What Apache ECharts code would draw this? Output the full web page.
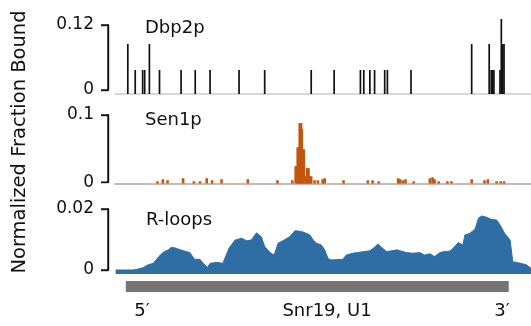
<!DOCTYPE html>
<html><head><meta charset="utf-8">
<script src="https://cdn.jsdelivr.net/npm/echarts@6/dist/echarts.min.js"></script>
<style>html,body{margin:0;padding:0;background:#fff}#c{width:531px;height:326px}</style>
</head><body><div id="c"></div>
<script>
// x domain in nucleotides (gene = 0..568)
const xMin = -16, xMax = 601;
const geneSpan = [0, 568];

// Dbp2p
const dbpTicks = [0, 0.12];
const dbpPos = [3,14,25,28,35,50,82,103,125,168,206,275,309,348,353,362,369,384,388,423,513,539,542,544,546,555,557,559,561];
const dbpVal = [0.085,0.037,0.037,0.037,0.085,0.037,0.037,0.037,0.037,0.037,0.037,0.037,0.037,0.037,0.037,0.037,0.037,0.037,0.037,0.037,0.085,0.085,0.037,0.037,0.037,0.037,0.131,0.085,0.085];

// Sen1p
const senTicks = [0, 0.1];
const senPos = [47,55,62,85,101,110,120,128,142,181,225,247,252,254,255,257,258,260,261,263,264,266,268,269,271,272,274,275,280,285,292,295,323,359,366,375,404,407,411,415,427,451,455,458,464,477,483,513,532,537,550,556,561];
const senVal = [0.0015,0.0045,0.003,0.006,0.0015,0.0015,0.006,0.003,0.0045,0.0045,0.003,0.003,0.024,0.024,0.052,0.052,0.088,0.088,0.079,0.049,0.049,0.009,0.003,0.021,0.021,0.009,0.0075,0.009,0.003,0.003,0.0045,0.006,0.003,0.003,0.003,0.0015,0.006,0.0045,0.003,0.0045,0.0015,0.006,0.0075,0.0045,0.0015,0.0015,0.0015,0.0045,0.003,0.0045,0.0015,0.0015,0.0015];

// R-loops
const rlTicks = [0, 0.02];
const rlPos = [-15,11,16,26,33,41,49,55,63,68,75,81,95,102,110,115,121,125,135,144,153,162,172,179,186,194,201,206,214,220,226,233,243,251,261,270,273,278,283,290,295,300,304,322,327,337,352,362,369,374,379,387,402,416,426,436,443,451,458,466,471,481,488,493,500,503,510,518,523,528,535,542,550,555,562,570,574,582,594,601];
const rlVal = [0.0000,0.0000,0.0002,0.0008,0.0017,0.0022,0.0044,0.0057,0.0066,0.0075,0.0071,0.0066,0.0057,0.0035,0.0035,0.0022,0.0008,0.0022,0.0025,0.0022,0.0071,0.0098,0.0104,0.0096,0.0098,0.0122,0.0109,0.0077,0.0057,0.0049,0.0088,0.0096,0.0109,0.0129,0.0126,0.0118,0.0115,0.0098,0.0088,0.0082,0.0066,0.0038,0.0033,0.0035,0.0049,0.0055,0.0060,0.0063,0.0075,0.0085,0.0075,0.0060,0.0066,0.0057,0.0055,0.0057,0.0049,0.0053,0.0044,0.0057,0.0060,0.0062,0.0077,0.0090,0.0082,0.0115,0.0120,0.0134,0.0170,0.0177,0.0173,0.0166,0.0164,0.0148,0.0120,0.0098,0.0027,0.0024,0.0017,0.0006];

const panelTitles = ['Dbp2p', 'Sen1p', 'R-loops'];
const yTitle = 'Normalized Fraction Bound';
const geneLabels = ['5\u2032', 'Snr19, U1', '3\u2032'];

const FONT = 'DejaVu Sans';
const INK = '#111';
const TICK_LEN = 7;
const AXIS_GAP = 7;
const LW = 1.4;

const zip = (a, b) => a.map((v, i) => [v, b[i]]);

// label-only axes (labels placed by the axis scale)
function labelAxis(idx, ticks) {
  return {
    gridIndex: idx, type: 'value', min: ticks[0], max: ticks[1], interval: ticks[1] - ticks[0],
    axisLine: { show: true, lineStyle: { color: INK, width: LW } },
    axisTick: { show: true, length: TICK_LEN, lineStyle: { color: INK, width: LW } },
    axisLabel: { show: true, margin: 14, fontSize: 17, fontFamily: FONT, color: INK },
    splitLine: { show: false }
  };
}
function labelX(idx) {
  return { gridIndex: idx, type: 'value', min: 0, max: 1, show: false };
}
function dataX(idx, line) {
  return {
    gridIndex: idx, type: 'value', min: xMin, max: xMax,
    axisLine: line ? { show: true, onZero: false, lineStyle: line } : { show: false },
    axisTick: { show: false }, axisLabel: { show: false }, splitLine: { show: false }
  };
}
function dataY(idx, min, max) {
  return { gridIndex: idx, type: 'value', min: min, max: max, show: false, splitLine: { show: false } };
}
const g = (left, top, width, height) => ({ left, top, width, height });

// bars rising from the panel floor, positioned by the axis scales
function barSeries(i, pos, val, width, color) {
  return {
    type: 'custom', xAxisIndex: i, yAxisIndex: i, silent: true, clip: false,
    data: zip(pos, val), encode: { x: 0, y: 1 },
    renderItem: function (params, api) {
      const top = api.coord([api.value(0), api.value(1)]);
      const floor = params.coordSys.y + params.coordSys.height;
      return { type: 'rect', shape: { x: top[0] - width / 2, y: top[1], width: width, height: floor - top[1] }, style: { fill: color } };
    }
  };
}

// bracket-shaped axis (line + end ticks) at the tick values, drawn as filled rects
function bracket(i, ticks) {
  return {
    type: 'custom', xAxisIndex: i, yAxisIndex: i, clip: false, silent: true, z: 10,
    data: [[xMin, ticks[0], ticks[1]]], encode: { x: 0, y: [1, 2] },
    renderItem: function (params, api) {
      const a = api.coord([api.value(0), api.value(1)]);
      const b = api.coord([api.value(0), api.value(2)]);
      const x = a[0] - AXIS_GAP;
      const h = LW / 2;
      const st = { fill: INK };
      return {
        type: 'group',
        children: [
          { type: 'rect', shape: { x: x - h, y: b[1] - h, width: LW, height: a[1] - b[1] + LW }, style: st },
          { type: 'rect', shape: { x: x - TICK_LEN, y: a[1] - h, width: TICK_LEN, height: LW }, style: st },
          { type: 'rect', shape: { x: x - TICK_LEN, y: b[1] - h, width: TICK_LEN, height: LW }, style: st }
        ]
      };
    }
  };
}

const chart = echarts.init(document.getElementById('c'));
chart.setOption({
  animation: false,
  backgroundColor: '#fff',
  grid: [
    g(108, 25, 10, 65),
    g(108, 115, 10, 67.3),
    g(108, 209, 10, 61),
    g(115, 19, 416, 75),
    g(115, 115, 416, 68.5),
    g(115, 209, 416, 65),
    g(115, 281, 416, 11)
  ],
  xAxis: [
    labelX(0), labelX(1), labelX(2),
    dataX(3, { color: '#cccccc', width: 1.5 }),
    dataX(4, { color: '#c8bab5', width: 2 }),
    dataX(5, null),
    dataX(6, null)
  ],
  yAxis: [
    labelAxis(0, dbpTicks),
    labelAxis(1, senTicks),
    labelAxis(2, rlTicks),
    dataY(3, -0.00738, 0.13108),
    dataY(4, -0.0018, 0.1),
    dataY(5, -0.00131, 0.02),
    dataY(6, 0, 1)
  ],
  series: [
    bracket(3, dbpTicks), bracket(4, senTicks), bracket(5, rlTicks),
    barSeries(3, dbpPos, dbpVal, 1.7, '#111'),
    barSeries(4, senPos, senVal, 2.6, '#c2560f'),
    {
      type: 'line', xAxisIndex: 5, yAxisIndex: 5, data: zip(rlPos, rlVal),
      symbol: 'none', lineStyle: { color: '#2f6ea5', width: 1 },
      areaStyle: { color: '#2f6ea5', opacity: 1, origin: 'start' }, silent: true
    },
    {
      type: 'custom', xAxisIndex: 6, yAxisIndex: 6, data: [[geneSpan[0], geneSpan[1]]],
      encode: { x: [0, 1] }, silent: true,
      renderItem: function (params, api) {
        const s = api.coord([api.value(0), 1]);
        const e = api.coord([api.value(1), 0]);
        return { type: 'rect', shape: { x: s[0], y: s[1], width: e[0] - s[0], height: e[1] - s[1] }, style: { fill: '#777372' } };
      }
    }
  ],
  graphic: [
    { type: 'text', x: 20, y: 142, rotation: Math.PI / 2,
      style: { text: yTitle, fontSize: 19.5, fontFamily: FONT, fill: INK, align: 'center', verticalAlign: 'middle' } },
    { type: 'text', x: 145, y: 28.5, style: { text: panelTitles[0], fontSize: 18, fontFamily: FONT, fill: INK, align: 'left', verticalAlign: 'middle' } },
    { type: 'text', x: 145, y: 120, style: { text: panelTitles[1], fontSize: 18, fontFamily: FONT, fill: INK, align: 'left', verticalAlign: 'middle' } },
    { type: 'text', x: 146, y: 220, style: { text: panelTitles[2], fontSize: 18, fontFamily: FONT, fill: INK, align: 'left', verticalAlign: 'middle' } },
    { type: 'text', x: 142, y: 311, style: { text: geneLabels[0], fontSize: 18, fontFamily: FONT, fill: INK, align: 'center', verticalAlign: 'middle' } },
    { type: 'text', x: 327, y: 311.5, style: { text: geneLabels[1], fontSize: 18, fontFamily: FONT, fill: INK, align: 'center', verticalAlign: 'middle' } },
    { type: 'text', x: 502, y: 311, style: { text: geneLabels[2], fontSize: 18, fontFamily: FONT, fill: INK, align: 'center', verticalAlign: 'middle' } }
  ]
});
</script></body></html>
